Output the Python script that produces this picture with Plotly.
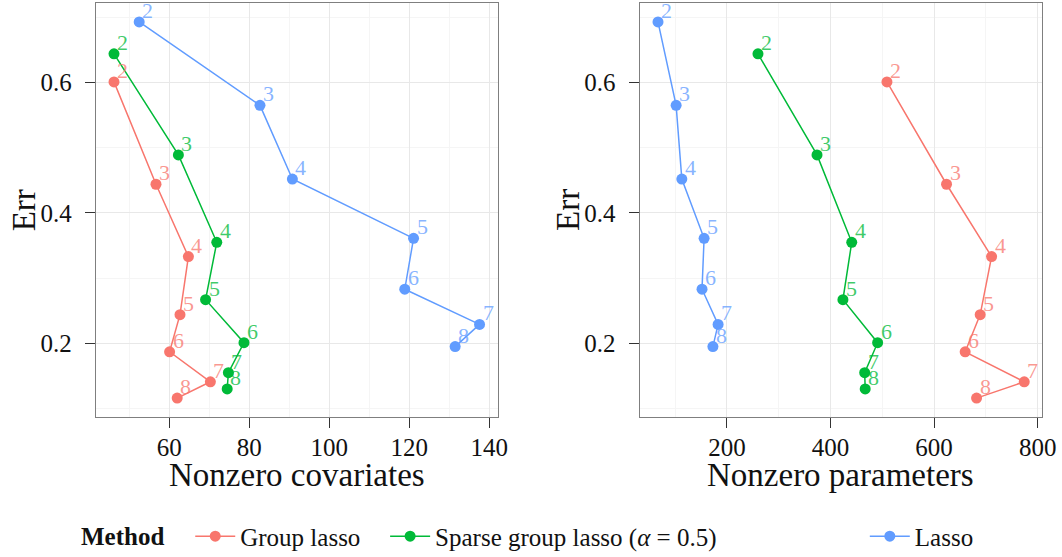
import plotly.graph_objects as go

# ---- data ----
labels = ["2", "3", "4", "5", "6", "7", "8"]

gl_cov = [46.2, 56.7, 64.8, 62.7, 60.1, 70.3, 62.0]
gl_par = [509, 624, 711, 689, 660, 774, 682]
gl_err = [0.601, 0.444, 0.333, 0.244, 0.187, 0.141, 0.116]

sgl_cov = [46.2, 62.3, 71.9, 69.1, 78.7, 74.8, 74.5]
sgl_par = [260, 374, 441, 424, 491, 466, 467]
sgl_err = [0.644, 0.489, 0.355, 0.267, 0.201, 0.155, 0.130]

lasso_cov = [52.5, 82.7, 90.8, 121.1, 118.9, 137.6, 131.5]
lasso_par = [67, 102, 113, 156, 152, 183, 173]
lasso_err = [0.693, 0.565, 0.452, 0.361, 0.283, 0.229, 0.195]

methods = ["Group lasso", "Sparse group lasso (<i>α</i> = 0.5)", "Lasso"]
colors = ["#F8766D", "#00BA38", "#619CFF"]
text_colors = ["rgba(248,118,109,0.75)", "rgba(0,186,56,0.75)", "rgba(97,156,255,0.75)"]

cov_series = [gl_cov, sgl_cov, lasso_cov]
par_series = [gl_par, sgl_par, lasso_par]
err_series = [gl_err, sgl_err, lasso_err]

FONT = "Liberation Serif, Times New Roman, DejaVu Serif, serif"
W, H = 1062, 557
# plot-area box in pixels
L, R, T, B = 95.7, 1042.3, 3.3, 416.7
PW, PH = R - L, B - T

def fx(p):
    return (p - L) / PW

def fy(p):
    return (B - p) / PH

fig = go.Figure()
annotations = []

legend_ids = ["legend", "legend2", "legend3"]

for i, name in enumerate(methods):
    for panel, xs in enumerate([cov_series[i], par_series[i]]):
        xa = "x" if panel == 0 else "x2"
        ya = "y" if panel == 0 else "y2"
        fig.add_trace(go.Scatter(
            x=xs, y=err_series[i],
            mode="lines+markers",
            line=dict(color=colors[i], width=1.5),
            marker=dict(color=colors[i], size=11),
            name=name,
            legend=legend_ids[i],
            showlegend=(panel == 0),
            cliponaxis=False,
            hoverinfo="skip",
            xaxis=xa, yaxis=ya,
        ))
        for xv, yv, lab in zip(xs, err_series[i], labels):
            annotations.append(dict(
                x=xv, y=yv, xref=xa, yref=ya, text=lab, showarrow=False,
                xanchor="left", yanchor="bottom", xshift=1, yshift=-3,
                font=dict(family=FONT, size=22, color=text_colors[i]),
            ))

title_font = dict(family=FONT, size=33, color="#111111")
# axis titles
annotations += [
    dict(text="Nonzero covariates", x=fx((95.7 + 498.3) / 2), y=fy(475), xref="paper", yref="paper",
         xanchor="center", yanchor="middle", showarrow=False, font=title_font),
    dict(text="Nonzero parameters", x=fx((639.7 + 1042.3) / 2), y=fy(475), xref="paper", yref="paper",
         xanchor="center", yanchor="middle", showarrow=False, font=title_font),
    dict(text="Err", x=fx(24), y=fy(210), xref="paper", yref="paper", textangle=-90,
         xanchor="center", yanchor="middle", showarrow=False, font=title_font),
    dict(text="Err", x=fx(568), y=fy(210), xref="paper", yref="paper", textangle=-90,
         xanchor="center", yanchor="middle", showarrow=False, font=title_font),
    dict(text="<b>Method</b>", x=fx(79), y=fy(536), xref="paper", yref="paper",
         xanchor="left", yanchor="middle", showarrow=False,
         font=dict(family=FONT, size=25, color="#111111")),
]

axis_common = dict(
    showline=True, mirror=True, linecolor="#7f7f7f", linewidth=1.3,
    ticks="outside", ticklen=10, tickwidth=1.3, tickcolor="#333333",
    showgrid=True, gridcolor="#e8e8e8", gridwidth=1,
    zeroline=False, automargin=False,
    tickfont=dict(family=FONT, size=25, color="#111111"),
)

legend_common = dict(
    orientation="h", yanchor="middle", xanchor="left", y=fy(536),
    font=dict(family=FONT, size=25, color="#111111"),
    bgcolor="rgba(0,0,0,0)", itemwidth=40,
)

fig.update_layout(
    width=W, height=H,
    margin=dict(l=L, r=W - R, t=T, b=H - B, autoexpand=False),
    paper_bgcolor="white", plot_bgcolor="white",
    font=dict(family=FONT, color="#111111"),
    annotations=annotations,
    xaxis=dict(axis_common, domain=[fx(95.7), fx(498.3)], range=[41.7, 142.3],
               tick0=0, dtick=20, ticklabelstandoff=-2,
               minor=dict(dtick=10, showgrid=True, gridcolor="#f5f5f5"),
               anchor="y"),
    yaxis=dict(axis_common, domain=[0, 1], range=[0.087, 0.722],
               tick0=0, dtick=0.2, ticklabelstandoff=8,
               minor=dict(dtick=0.1, showgrid=True, gridcolor="#f5f5f5"),
               anchor="x"),
    xaxis2=dict(axis_common, domain=[fx(639.7), fx(1042.3)], range=[31.6, 808.3],
                tick0=0, dtick=200, ticklabelstandoff=-2,
                minor=dict(dtick=100, showgrid=True, gridcolor="#f5f5f5"),
                anchor="y2"),
    yaxis2=dict(axis_common, domain=[0, 1], range=[0.087, 0.722],
                tick0=0, dtick=0.2, ticklabelstandoff=8,
                minor=dict(dtick=0.1, showgrid=True, gridcolor="#f5f5f5"),
                anchor="x2"),
    legend=dict(legend_common, x=fx(190)),
    legend2=dict(legend_common, x=fx(385)),
    legend3=dict(legend_common, x=fx(865)),
)

fig.write_html("out.html", config={"displayModeBar": False},
               post_script="document.body.style.margin='0';")
